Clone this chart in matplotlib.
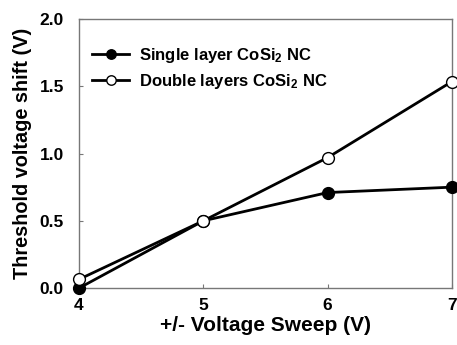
import matplotlib
matplotlib.use("Agg")
import matplotlib.pyplot as plt

plt.rcParams['font.family'] = ['Liberation Sans', 'DejaVu Sans']
plt.rcParams['font.weight'] = 'bold'
plt.rcParams['mathtext.fontset'] = 'custom'
plt.rcParams['mathtext.rm'] = 'Liberation Sans:bold'
plt.rcParams['mathtext.bf'] = 'Liberation Sans:bold'
plt.rcParams['mathtext.default'] = 'bf'

sweep = [4, 5, 6, 7]
singleLayer = [0.0, 0.5, 0.71, 0.75]
doubleLayer = [0.065, 0.5, 0.97, 1.535]
xTicks = [4, 5, 6, 7]
yTicks = [0.0, 0.5, 1.0, 1.5, 2.0]

fig = plt.figure(figsize=(4.57, 3.45), dpi=100)
ax = fig.add_axes([0.173, 0.165, 0.816, 0.78])

ax.plot(sweep, singleLayer, color="black", linewidth=2.0, marker="o", markersize=8.5,
        markerfacecolor="black", markeredgecolor="black", label=r"Single layer CoSi$_2$ NC",
        clip_on=False, zorder=3)
ax.plot(sweep, doubleLayer, color="black", linewidth=2.0, marker="o", markersize=8.5,
        markerfacecolor="white", markeredgecolor="black", markeredgewidth=1.0,
        label=r"Double layers CoSi$_2$ NC", clip_on=False, zorder=4)

ax.set_xlim(4, 7)
ax.set_ylim(0, 2.0)
ax.set_xticks(xTicks)
ax.set_yticks(yTicks)
ax.set_yticklabels(["%.1f" % v for v in yTicks])
ax.tick_params(direction="in", length=3, width=0.8, color="#777777", labelsize=12.5)
ax.tick_params(axis="x", pad=7)
ax.tick_params(axis="y", pad=11)
for spine in ax.spines.values():
    spine.set_color("#777777")
    spine.set_linewidth(1.0)

ax.set_xlabel("+/- Voltage Sweep (V)", fontsize=15, fontweight="bold", labelpad=2)
ax.set_ylabel("Threshold voltage shift (V)", fontsize=14.3, fontweight="bold", labelpad=5)

ax.legend(loc="upper left", frameon=False, fontsize=12, handlelength=2.2,
          borderaxespad=0.4, labelspacing=0.38, handletextpad=0.6, markerscale=0.8,
          bbox_to_anchor=(0.0, 0.948))

fig.savefig("out.png", dpi=100)
